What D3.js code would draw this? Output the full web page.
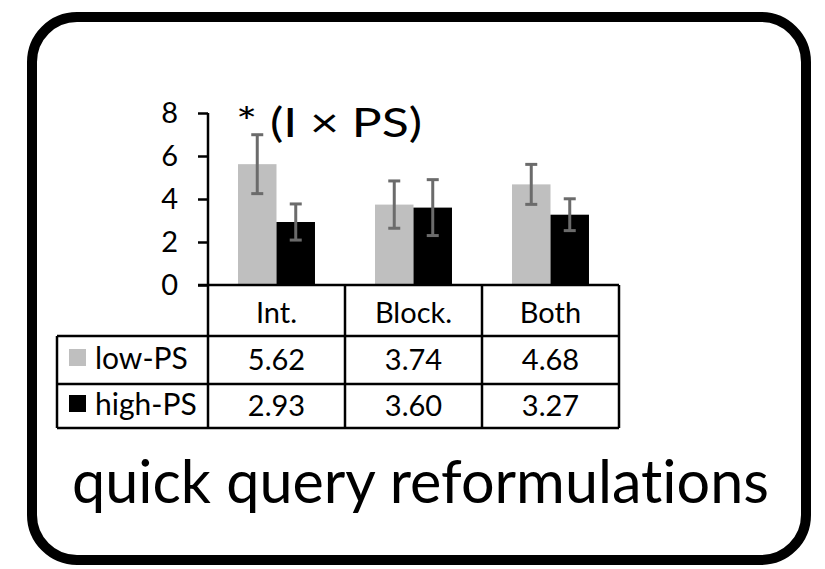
<!DOCTYPE html>
<html>
<head>
<meta charset="utf-8">
<title>quick query reformulations</title>
<script src="https://d3js.org/d3.v7.min.js"></script>
<style>
  body { margin: 0; background: #fff; }
  text { font-family: Lato, "Noto Sans", sans-serif; font-weight: 400; fill: #000;
         font-variant-ligatures: none; }
</style>
</head>
<body>
<div id="chart"></div>
<script>
// data
var categories = ["Int.", "Block.", "Both"];
var seriesNames = ["low-PS", "high-PS"];
var lowPS = [5.62, 3.74, 4.68];
var highPS = [2.93, 3.60, 3.27];
var lowErr = [1.37, 1.10, 0.93];
var highErr = [0.84, 1.30, 0.74];
var yTicks = [0, 2, 4, 6, 8];
var seriesColors = ["#bfbfbf", "#000000"];

var W = 825, H = 569;
var svg = d3.select("#chart").append("svg")
    .attr("width", W).attr("height", H);

// rounded frame
svg.append("rect")
    .attr("x", 32).attr("y", 17)
    .attr("width", 774).attr("height", 543)
    .attr("rx", 45).attr("ry", 45)
    .attr("fill", "#fff")
    .attr("stroke", "#000")
    .attr("stroke-width", 10);

// scales
var y = d3.scaleLinear().domain([0, 8]).range([285, 113]);
var x0 = d3.scaleBand().domain(categories).range([208, 619]).paddingInner(0).paddingOuter(0);
var x1 = d3.scaleBand().domain(seriesNames).range([0, x0.bandwidth()]).paddingInner(0).paddingOuter(0.78);

var rows = [];
categories.forEach(function(c, i) {
  rows.push({cat: c, s: "low-PS", v: lowPS[i], e: lowErr[i], color: seriesColors[0]});
  rows.push({cat: c, s: "high-PS", v: highPS[i], e: highErr[i], color: seriesColors[1]});
});

// bars
svg.append("g").selectAll("rect")
  .data(rows)
  .enter().append("rect")
    .attr("x", function(d) { return x0(d.cat) + x1(d.s); })
    .attr("y", function(d) { return y(d.v); })
    .attr("width", x1.bandwidth())
    .attr("height", function(d) { return y(0) - y(d.v); })
    .attr("fill", function(d) { return d.color; });

// error bars
var eg = svg.append("g").attr("stroke", "#6b6b6b").attr("stroke-width", 3);
rows.forEach(function(d) {
  var cx = x0(d.cat) + x1(d.s) + x1.bandwidth() / 2;
  eg.append("line").attr("x1", cx).attr("x2", cx)
    .attr("y1", y(d.v + d.e)).attr("y2", y(d.v - d.e));
  eg.append("line").attr("x1", cx - 6).attr("x2", cx + 6)
    .attr("y1", y(d.v + d.e)).attr("y2", y(d.v + d.e));
  eg.append("line").attr("x1", cx - 6).attr("x2", cx + 6)
    .attr("y1", y(d.v - d.e)).attr("y2", y(d.v - d.e));
});

// y axis
var yAxis = d3.axisLeft(y).tickValues(yTicks).tickSize(10).tickSizeOuter(0).tickPadding(20);
var ag = svg.append("g").attr("transform", "translate(208,0)").call(yAxis);
ag.select(".domain").remove();
ag.selectAll(".tick line").attr("stroke", "#000").attr("stroke-width", 2.5);
ag.selectAll(".tick text")
    .style("font-family", "Lato, 'Noto Sans', sans-serif")
    .style("font-weight", 400)
    .style("font-size", "29px").attr("fill", "#000");

// table
var rowY = [285, 336, 384, 428];
var tableLeft = 57;
var right = x0.range()[1];
var tg = svg.append("g").attr("stroke", "#000").attr("stroke-width", 2.5);
// axis line running down through the table
tg.append("line").attr("x1", 208).attr("x2", 208).attr("y1", y(8)).attr("y2", rowY[3]);
tg.append("line").attr("x1", 198).attr("x2", right).attr("y1", rowY[0]).attr("y2", rowY[0]);
[rowY[1], rowY[2], rowY[3]].forEach(function(yy) {
  tg.append("line").attr("x1", tableLeft).attr("x2", right).attr("y1", yy).attr("y2", yy);
});
tg.append("line").attr("x1", tableLeft).attr("x2", tableLeft).attr("y1", rowY[1]).attr("y2", rowY[3]);
categories.forEach(function(c) {
  var xr = x0(c) + x0.bandwidth();
  tg.append("line").attr("x1", xr).attr("x2", xr).attr("y1", rowY[0]).attr("y2", rowY[3]);
});

// header row
svg.append("g").selectAll("text")
  .data(categories)
  .enter().append("text")
    .attr("x", function(d) { return x0(d) + x0.bandwidth() / 2; })
    .attr("y", 323)
    .attr("text-anchor", "middle")
    .style("font-size", "29px")
    .text(function(d) { return d; });

// value rows
var tableVals = [lowPS, highPS];
var baselines = [370, 416];
tableVals.forEach(function(vals, r) {
  svg.append("g").selectAll("text")
    .data(vals)
    .enter().append("text")
      .attr("x", function(d, i) { return x0(categories[i]) + x0.bandwidth() / 2; })
      .attr("y", baselines[r])
      .attr("text-anchor", "middle")
      .style("font-size", "29px")
      .text(function(d) { return d.toFixed(2); });
  // legend key + label
  svg.append("rect")
    .attr("x", 69).attr("y", baselines[r] - 21)
    .attr("width", 17).attr("height", 17)
    .attr("fill", seriesColors[r]);
  svg.append("text")
    .attr("x", 95).attr("y", baselines[r] - 1)
    .style("font-size", "30px")
    .text(seriesNames[r]);
});

// significance note
svg.append("text")
  .attr("x", 236).attr("y", 137)
  .style("font-size", "40px")
  .attr("textLength", 186).attr("lengthAdjust", "spacingAndGlyphs")
  .text("* (I \u00d7 PS)");

// title
svg.append("text")
  .attr("x", 72).attr("y", 503)
  .style("font-size", "60px")
  .attr("textLength", 697).attr("lengthAdjust", "spacingAndGlyphs")
  .text("quick query reformulations");
</script>
</body>
</html>
